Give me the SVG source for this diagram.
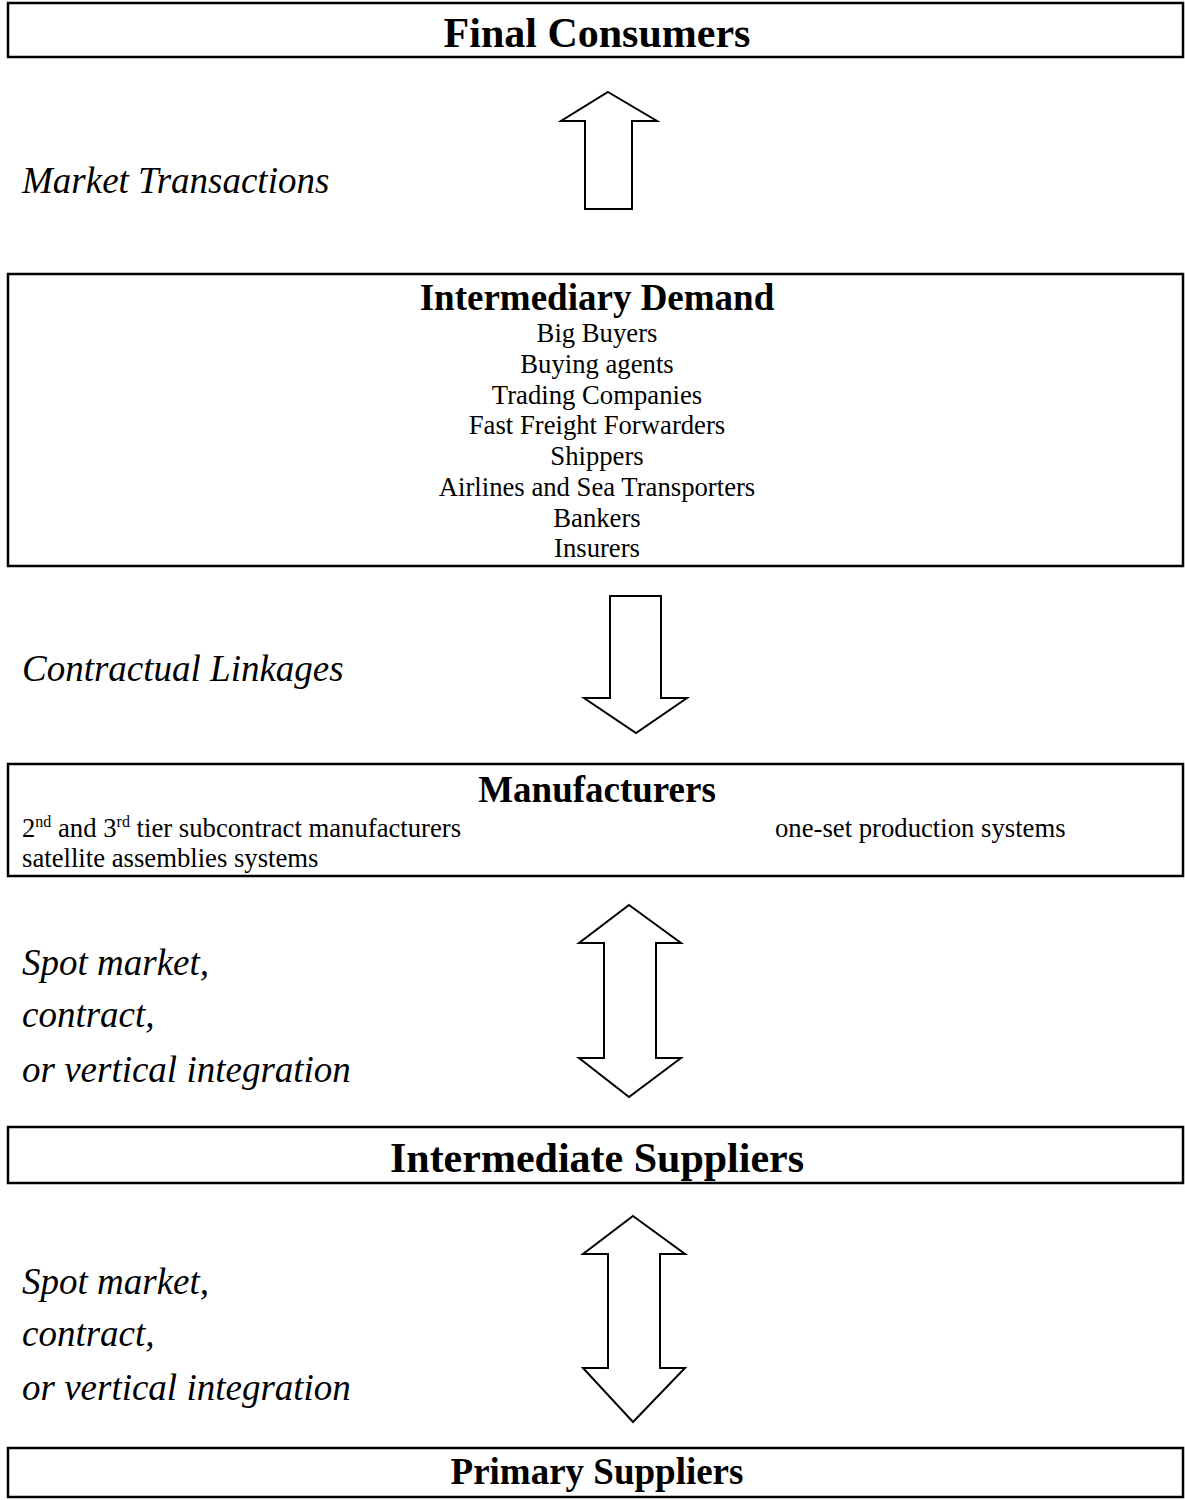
<svg xmlns="http://www.w3.org/2000/svg" width="1185" height="1500" viewBox="0 0 1185 1500">
<style>
.box{fill:#fff;stroke:#000;stroke-width:2.5}
.arrow{fill:#fff;stroke:#000;stroke-width:2;stroke-linejoin:miter}
.t{font-family:"Liberation Serif","Times New Roman",serif;fill:#000}
.title{font-weight:bold;font-size:37px;text-anchor:middle}
.big{font-weight:bold;font-size:42px;text-anchor:middle}
.item{font-size:26.7px;text-anchor:middle}
.body{font-size:26.7px}
.lab{font-style:italic;font-size:37px}
.sup{font-size:16px}
</style>
<rect width="1185" height="1500" fill="#fff"/>
<g id="final-consumers">
<rect class="box" x="8" y="3" width="1175" height="54"/>
<text class="t big" x="597" y="47">Final Consumers</text>
</g>
<g id="intermediary-demand">
<rect class="box" x="8" y="274" width="1175" height="292"/>
<text class="t title" x="597" y="310">Intermediary Demand</text>
<text class="t item" x="597" y="342">Big Buyers</text>
<text class="t item" x="597" y="373">Buying agents</text>
<text class="t item" x="597" y="404">Trading Companies</text>
<text class="t item" x="597" y="434">Fast Freight Forwarders</text>
<text class="t item" x="597" y="465">Shippers</text>
<text class="t item" x="597" y="496">Airlines and Sea Transporters</text>
<text class="t item" x="597" y="527">Bankers</text>
<text class="t item" x="597" y="557">Insurers</text>
</g>
<g id="manufacturers">
<rect class="box" x="8" y="764" width="1175" height="112"/>
<text class="t title" x="597" y="802">Manufacturers</text>
<text class="t body" x="22" y="837">2<tspan class="sup" dy="-10">nd</tspan><tspan dy="10"> and 3</tspan><tspan class="sup" dy="-10">rd</tspan><tspan dy="10"> tier subcontract manufacturers</tspan></text>
<text class="t body" x="775" y="837">one-set production systems</text>
<text class="t body" x="22" y="867">satellite assemblies systems</text>
</g>
<g id="intermediate-suppliers">
<rect class="box" x="8" y="1127" width="1175" height="56"/>
<text class="t big" x="597" y="1172">Intermediate Suppliers</text>
</g>
<g id="primary-suppliers">
<rect class="box" x="8" y="1448" width="1175" height="49"/>
<text class="t title" x="597" y="1484">Primary Suppliers</text>
</g>
<g id="connectors">
<polygon class="arrow" points="608,92 657,121 632,121 632,209 585,209 585,121 561,121"/>
<polygon class="arrow" points="610,596 661,596 661,698 687,698 636,733 584,698 610,698"/>
<polygon class="arrow" points="629,905 681,943 656,943 656,1058 681,1058 629,1097 579,1058 604,1058 604,943 579,943"/>
<polygon class="arrow" points="633,1216 685,1254 660,1254 660,1368 685,1368 633,1422 583,1368 608,1368 608,1254 583,1254"/>
</g>
<g id="labels">
<text class="t lab" x="22" y="193">Market Transactions</text>
<text class="t lab" x="22" y="681">Contractual Linkages</text>
<text class="t lab" x="22" y="975">Spot market,</text>
<text class="t lab" x="22" y="1027">contract,</text>
<text class="t lab" x="22" y="1082">or vertical integration</text>
<text class="t lab" x="22" y="1294">Spot market,</text>
<text class="t lab" x="22" y="1346">contract,</text>
<text class="t lab" x="22" y="1400">or vertical integration</text>
</g>
</svg>
